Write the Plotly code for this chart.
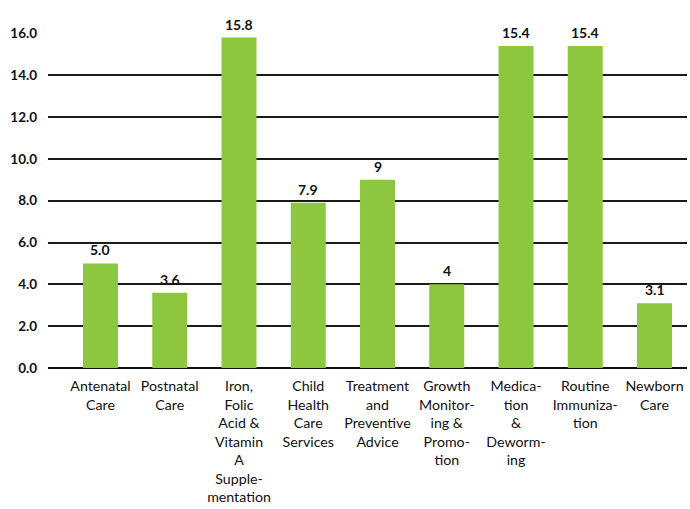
import plotly.graph_objects as go

categories = [
    "Antenatal<br>Care",
    "Postnatal<br>Care",
    "Iron,<br>Folic<br>Acid &<br>Vitamin<br>A<br>Supple-<br>mentation",
    "Child<br>Health<br>Care<br>Services",
    "Treatment<br>and<br>Preventive<br>Advice",
    "Growth<br>Monitor-<br>ing &<br>Promo-<br>tion",
    "Medica-<br>tion<br>&<br>Deworm-<br>ing",
    "Routine<br>Immuniza-<br>tion",
    "Newborn<br>Care",
]
values = [5.0, 3.6, 15.8, 7.9, 9, 4, 15.4, 15.4, 3.1]
value_labels = ["5.0", "3.6", "15.8", "7.9", "9", "4", "15.4", "15.4", "3.1"]
y_ticks = [0, 2, 4, 6, 8, 10, 12, 14, 16]

FONT = "Lato"
GREEN = "#8DC63F"

idx = list(range(len(categories)))

fig = go.Figure()
fig.add_trace(go.Bar(x=idx, y=values, marker=dict(color=GREEN, line=dict(width=0)),
                     width=0.505, hoverinfo="skip"))

for i, v, t in zip(idx, values, value_labels):
    fig.add_annotation(x=i, y=v, text="<b>%s</b>" % t, showarrow=False,
                       yanchor="bottom", yshift=3,
                       font=dict(family=FONT, size=14, color="#111111"))

fig.update_layout(
    width=690, height=509,
    margin=dict(l=48, r=3, t=33, b=141, autoexpand=False),
    plot_bgcolor="white", paper_bgcolor="white",
    showlegend=False,
    font=dict(family=FONT, color="#111111"),
)
fig.update_xaxes(
    range=[-0.758, 8.469], automargin=False,
    tickmode="array", tickvals=idx, ticktext=categories,
    tickangle=0, showgrid=False, zeroline=False, showline=False,
    ticks="", ticklabelstandoff=8,
    tickfont=dict(family=FONT, size=14.2, color="#111111"),
)
fig.update_yaxes(
    range=[0, 16.02], automargin=False,
    tickmode="array", tickvals=y_ticks,
    ticktext=["<b>%.1f</b>" % t for t in y_ticks],
    showgrid=True, gridcolor="#1a1a1a", gridwidth=1.5,
    zeroline=True, zerolinecolor="#111111", zerolinewidth=2,
    showline=False, ticks="", ticklabelstandoff=10,
    tickfont=dict(family=FONT, size=13.5, color="#111111"),
)

fig.write_html("out.html")
